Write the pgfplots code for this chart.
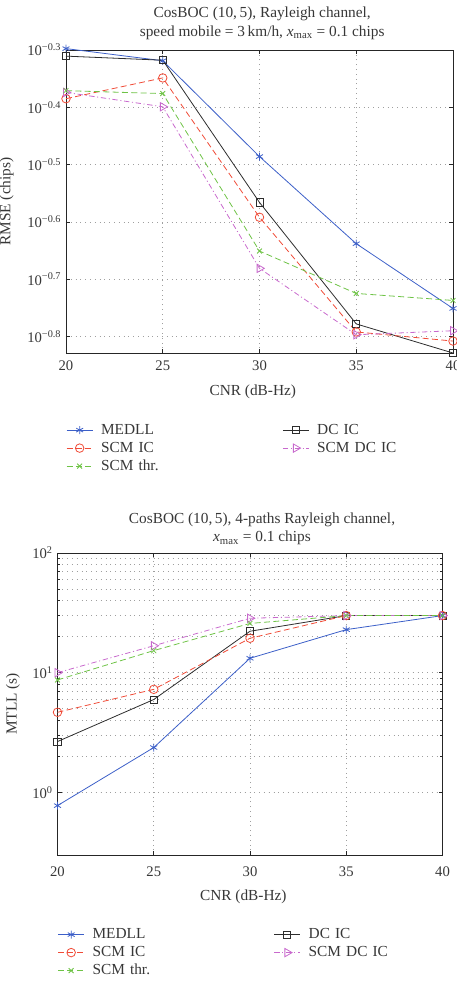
\documentclass[border=0pt]{standalone}
\usepackage{fontspec}
\setmainfont{Liberation Serif}
\usepackage{pgfplots}
\pgfplotsset{compat=1.18}

\definecolor{cMed}{RGB}{60,95,200}
\definecolor{cScmIc}{RGB}{240,75,55}
\definecolor{cThr}{RGB}{110,195,70}
\definecolor{cDc}{RGB}{45,45,45}
\definecolor{cScmDc}{RGB}{200,105,205}
\definecolor{txt}{RGB}{55,55,55}

\newcommand{\fsTick}{\fontsize{11}{13}\selectfont}
\newcommand{\fsText}{\fontsize{11.5}{14}\selectfont}

\pgfplotsset{
  med/.style={color=cMed, solid, line width=0.6pt, mark=asterisk, mark size=3pt},
  dcic/.style={color=cDc, solid, line width=0.6pt, mark=square, mark size=2.7pt},
  scmic/.style={color=cScmIc, line width=0.6pt, dash pattern=on 4.5pt off 2.5pt,
    mark=o, mark size=3.2pt, mark options={solid}},
  thr/.style={color=cThr, line width=0.6pt, dash pattern=on 4.5pt off 2.5pt,
    mark=x, mark size=2.6pt, mark options={solid}},
  scmdc/.style={color=cScmDc, line width=0.6pt, dash pattern=on 4pt off 2pt on 0.8pt off 2pt,
    mark=triangle, mark size=3.6pt, mark options={solid, rotate=-90}},
  cnrfig/.style={
    scale only axis,
    xmin=20, xmax=40, xtick={20,25,30,35,40},
    tick align=inside, major tick length=3pt, minor tick length=1.6pt,
    axis line style={black!85, line width=0.5pt},
    tick style={black!85, line width=0.4pt},
    xmajorgrids, ymajorgrids,
    grid style={gray!75, line width=0.5pt, dash pattern=on 0.6pt off 3pt},
    minor grid style={gray!75, line width=0.5pt, dash pattern=on 0.6pt off 3pt},
    tick label style={font=\fsTick, text=txt},
    /pgf/number format/assume math mode=true,
    label style={font=\fsText, text=txt},
    title style={font=\fsText, text=txt, align=center, inner sep=0pt, anchor=south},
    xlabel={CNR (dB-Hz)},
    clip=false,
    legend columns=2,
    legend cell align=left,
    legend image code/.code={\draw[mark repeat=2, mark phase=2, ##1]
      plot coordinates {(0pt,0pt) (9.75pt,0pt) (19.5pt,0pt)};},
    legend style={anchor=north west, draw=none, fill=none, inner sep=0pt,
      row sep=0.5pt,
      nodes={font=\fsText, text=txt, inner sep=1pt, text width=70pt, align=left,
        text height=8.5pt, text depth=2.5pt},
      /tikz/column 1/.style={column sep=5pt},
      /tikz/column 2/.style={column sep=65pt},
      /tikz/column 3/.style={column sep=5pt}},
  }
}

\begin{document}
\begin{tikzpicture}
\path[use as bounding box] (0pt,0pt) rectangle (342.75pt,739.5pt);

% RMSE against CNR
\begin{semilogyaxis}[cnrfig,
  at={(49.5pt,474.75pt)}, anchor=south west,
  width=290.25pt, height=227.25pt,
  ymin=0.1483, ymax=0.501187,
  ytick={0.158489,0.199526,0.251189,0.316228,0.398107,0.501187},
  yticklabels={10\textsuperscript{−0.8},10\textsuperscript{−0.7},10\textsuperscript{−0.6},
    10\textsuperscript{−0.5},10\textsuperscript{−0.4},10\textsuperscript{−0.3}},
  yminorticks=false,
  xticklabel style={yshift=-2.5pt},
  ylabel={RMSE (chips)},
  ylabel style={at={(axis description cs:-0.153,0.5)}, anchor=center},
  xlabel style={at={(axis description cs:0.5,-0.139)}, anchor=base, xshift=-5pt},
  title={CosBOC (10,\,5), Rayleigh channel,\\speed mobile = 3\,km/h, \textit{x}\textsubscript{max} = 0.1 chips},
  title style={at={(axis description cs:0.5,1)}, yshift=1.5pt, xshift=2pt},
  legend style={at={(axis description cs:0,-0.225)}},
]
\addplot[med] coordinates {(20,0.504) (25,0.480) (30,0.3266) (35,0.2301) (40,0.1774)};
\addlegendentry{MEDLL}
\addplot[dcic] coordinates {(20,0.489) (25,0.481) (30,0.2716) (35,0.1667) (40,0.1483)};
\addlegendentry{DC IC}
\addplot[scmic] coordinates {(20,0.4121) (25,0.448) (30,0.2559) (35,0.1614) (40,0.1556)};
\addlegendentry{SCM IC}
\addplot[scmdc] coordinates {(20,0.4227) (25,0.3990) (30,0.2084) (35,0.1596) (40,0.1622)};
\addlegendentry{SCM DC IC}
\addplot[thr] coordinates {(20,0.4256) (25,0.4207) (30,0.2234) (35,0.1884) (40,0.1832)};
\addlegendentry{SCM thr.}
\end{semilogyaxis}

% MTLL against CNR
\begin{semilogyaxis}[cnrfig,
  at={(43.125pt,98.25pt)}, anchor=south west,
  width=288.75pt, height=226.5pt,
  ymin=0.3, ymax=100,
  ytick={1,10,100},
  yticklabels={10\textsuperscript{0},10\textsuperscript{1},10\textsuperscript{2}},
  yminorgrids,
  xticklabel style={yshift=-5pt},
  ylabel={MTLL (s)},
  ylabel style={at={(axis description cs:-0.116,0.5)}, anchor=center},
  xlabel style={at={(axis description cs:0.5,-0.151)}, anchor=base, xshift=-5pt},
  title={CosBOC (10,\,5), 4-paths Rayleigh channel,\\\textit{x}\textsubscript{max} = 0.1 chips},
  title style={at={(axis description cs:0.5,1)}, yshift=-0.3pt, xshift=9pt},
  legend style={at={(axis description cs:0,-0.234)}},
]
\addplot[med] coordinates {(20,0.776) (25,2.37) (30,13.2) (35,22.9) (40,30)};
\addlegendentry{MEDLL}
\addplot[dcic] coordinates {(20,2.66) (25,5.97) (30,22.2) (35,30) (40,30)};
\addlegendentry{DC IC}
\addplot[scmic] coordinates {(20,4.67) (25,7.26) (30,19.4) (35,30) (40,30)};
\addlegendentry{SCM IC}
\addplot[scmdc] coordinates {(20,10.0) (25,16.8) (30,28.5) (35,30) (40,30)};
\addlegendentry{SCM DC IC}
\addplot[thr] coordinates {(20,8.7) (25,15.3) (30,25.8) (35,30) (40,30)};
\addlegendentry{SCM thr.}
\end{semilogyaxis}
\end{tikzpicture}
\end{document}
